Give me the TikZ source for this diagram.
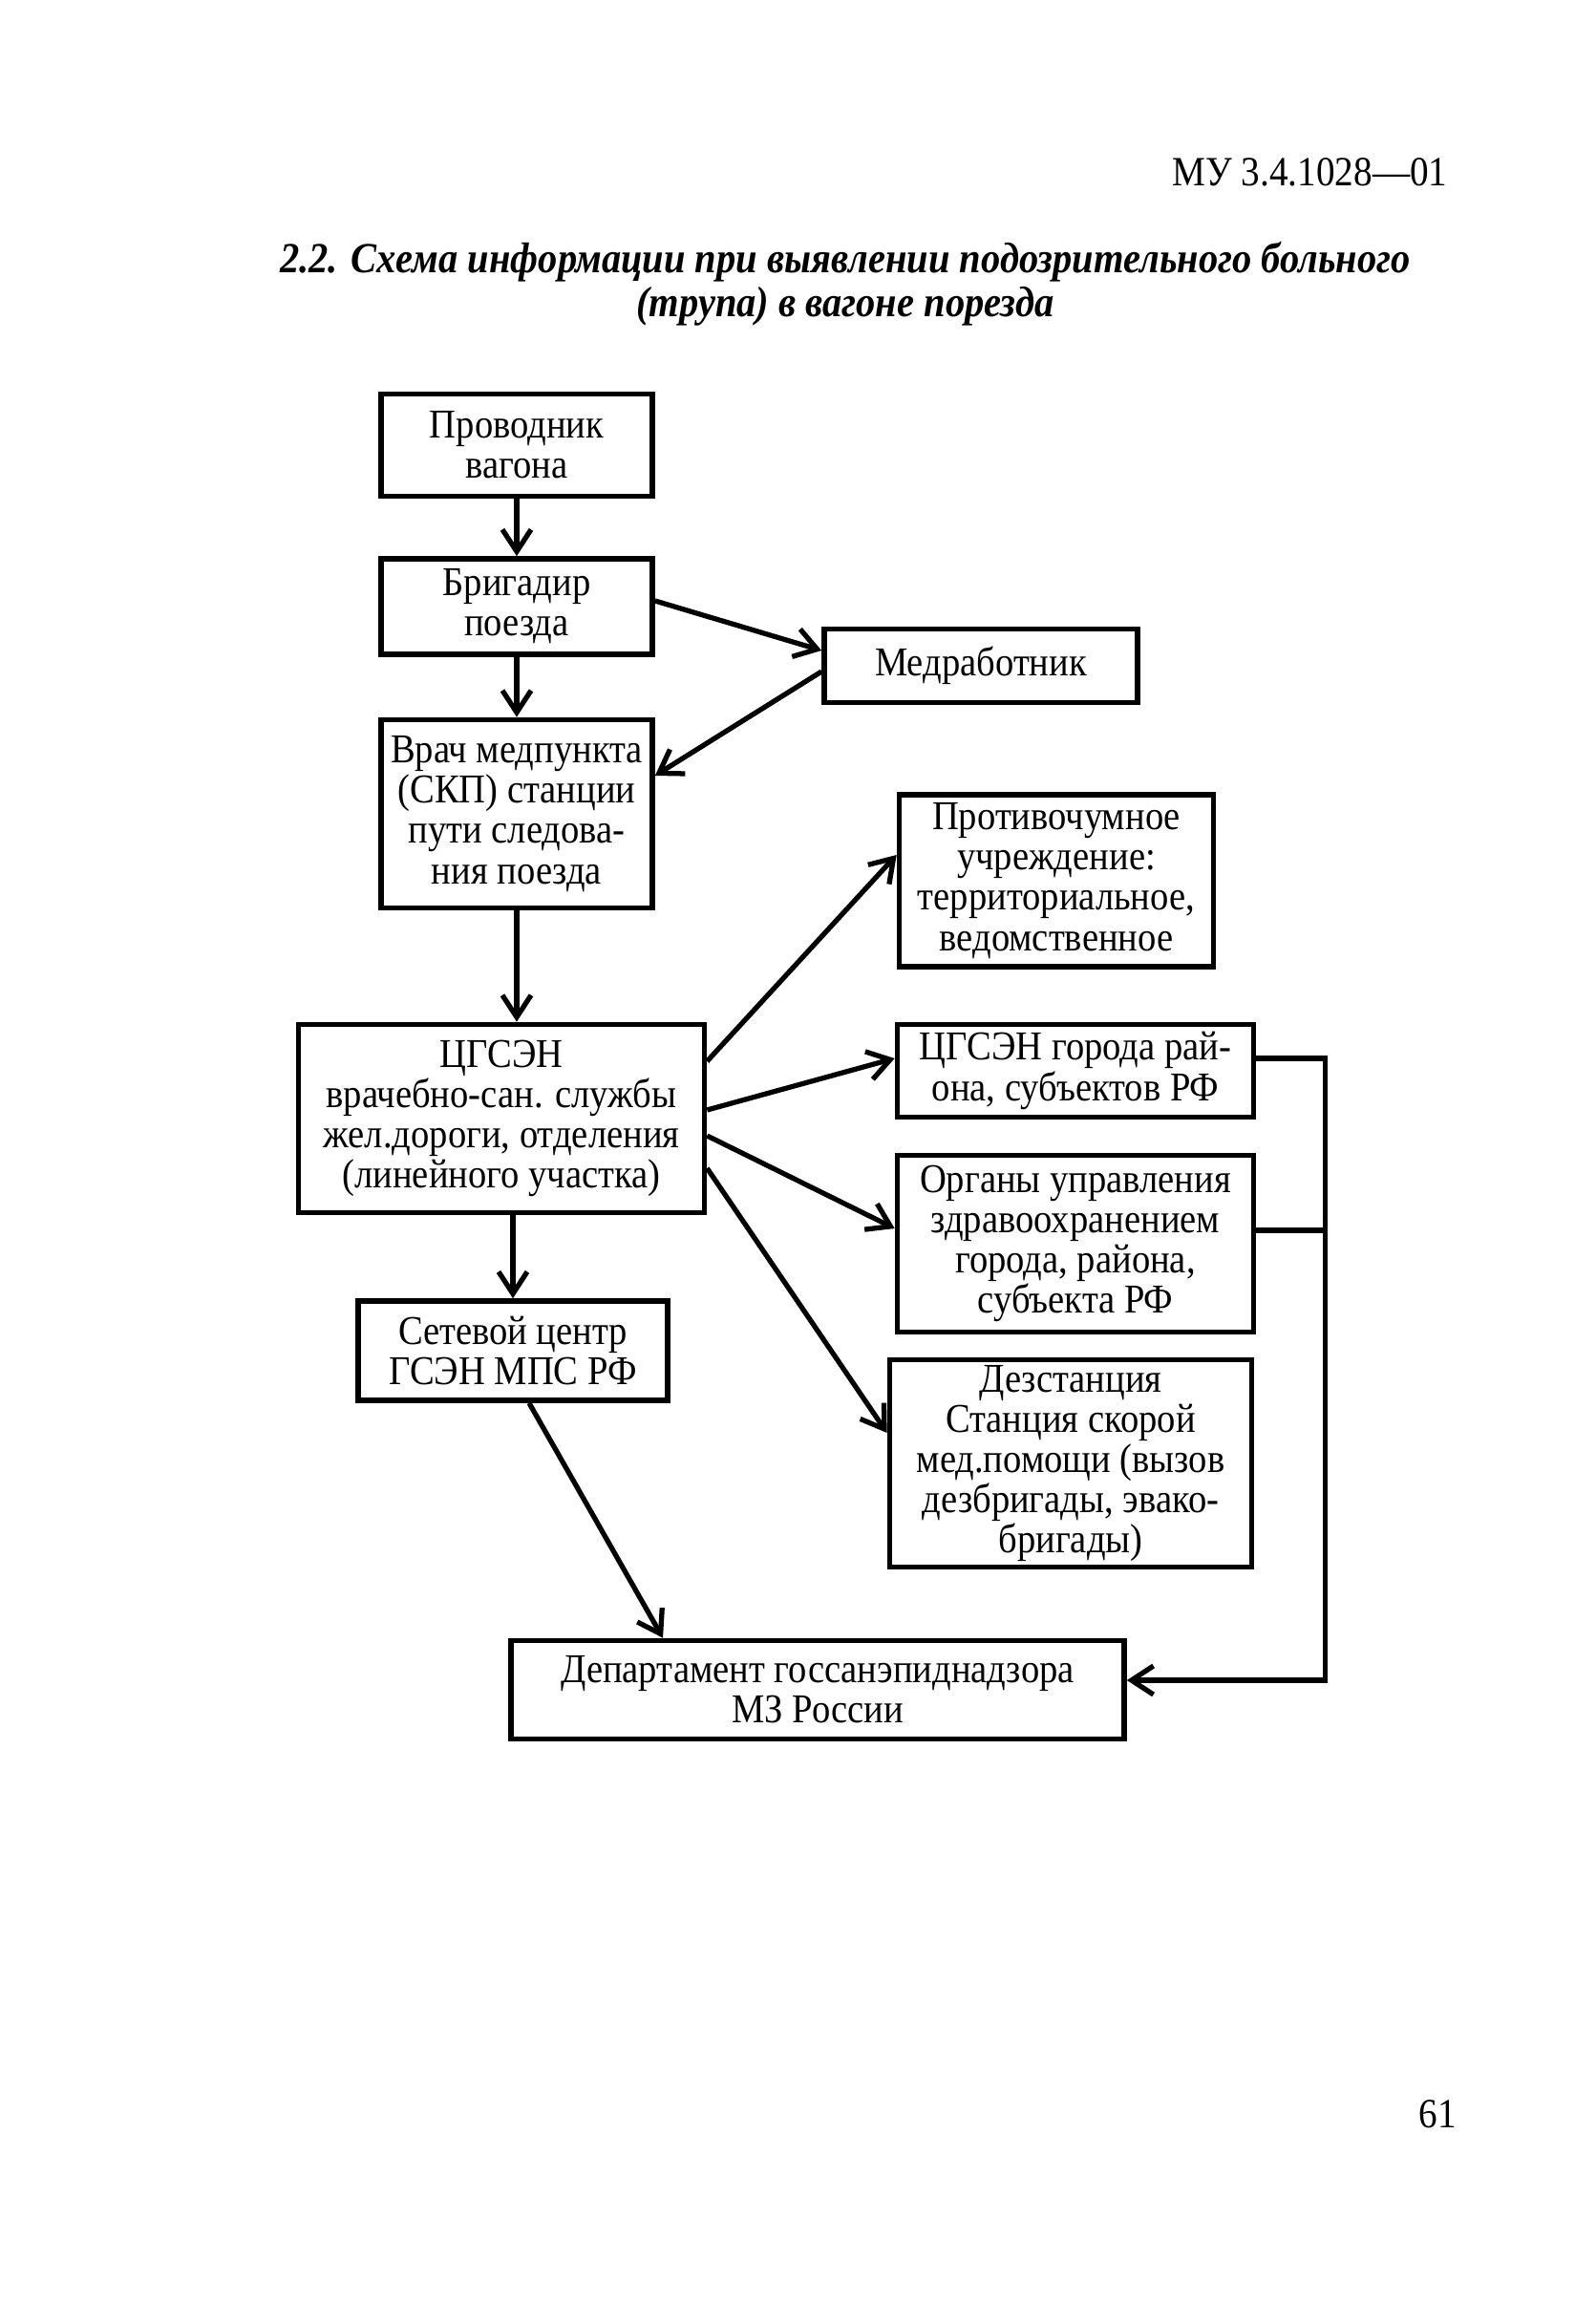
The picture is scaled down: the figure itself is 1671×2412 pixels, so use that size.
\documentclass[tikz,border=0pt]{standalone}
\usepackage{fontspec}
\setmainfont{Liberation Serif}[FakeStretch=0.9]
\usetikzlibrary{arrows.meta}
\begin{document}
\begin{tikzpicture}[x=0.1mm, y=-0.1mm,
  box/.style={draw, line width=1.6pt, align=center, inner sep=0pt, font=\fontsize{12.2}{12}\selectfont},
  line/.style={line width=1.5pt},
  arr/.style={line, -{Straight Barb[length=2.3mm,width=3mm]}}]
\useasboundingbox (0,0) rectangle (1671,2412);
\node[anchor=east, font=\fontsize{12.4}{13}\selectfont] (code) at (1528,180) {МУ 3.4.1028—01};
\node[align=center, font=\fontsize{12.8}{13.2}\selectfont\bfseries\itshape] (title) at (885,297)
  {2.2. Схема информации при выявлении подозрительного больного\\(трупа) в вагоне порезда};

\node[box, minimum width=28.4mm, minimum height=10.7mm] (prov) at (541,466) {Проводник\\вагона};
\node[box, minimum width=28.4mm, minimum height=10mm] (brig) at (541,635) {Бригадир\\поезда};
\node[box, minimum width=32.8mm, minimum height=7.7mm] (medr) at (1027,697) {Медработник};
\node[box, minimum width=28.4mm, minimum height=19.7mm] (vrach) at (541,852) {Врач медпункта\\(СКП) станции\\пути следова-\\ния поезда};
\node[box, minimum width=32.9mm, minimum height=18mm] (chuma) at (1106,922) {Противочумное\\учреждение:\\территориальное,\\ведомственное};
\node[box, minimum width=42.5mm, minimum height=19.7mm] (cgsen) at (525,1171) {ЦГСЭН\\врачебно-сан. службы\\жел.дороги, отделения\\(линейного участка)};
\node[box, minimum width=37.3mm, minimum height=9.7mm] (gorod) at (1126,1121) {ЦГСЭН города рай-\\она, субъектов РФ};
\node[box, minimum width=37.3mm, minimum height=18.5mm] (organy) at (1126,1302) {Органы управления\\здравоохранением\\города, района,\\субъекта РФ};
\node[box, minimum width=32.4mm, minimum height=10.4mm] (set) at (537,1414) {Сетевой центр\\ГСЭН МПС РФ};
\node[box, minimum width=37.9mm, minimum height=21.7mm] (dez) at (1121,1532) {Дезстанция\\Станция скорой\\мед.помощи (вызов\\дезбригады, эвако-\\бригады)};
\node[box, minimum width=64.2mm, minimum height=10.3mm] (dep) at (856,1769) {Департамент госсанэпиднадзора\\МЗ России};
\node[font=\fontsize{12.4}{13}\selectfont] (page) at (1505,2213) {61};

\draw[arr] (prov) -- (brig);
\draw[arr] (brig) -- (vrach);
\draw[arr] ([yshift=0.6mm]brig.east) -- ([yshift=1.6mm]medr.west);
\draw[arr] ([yshift=-0.6mm]medr.west) -- ([yshift=4mm]vrach.east);
\draw[arr] (vrach) -- (vrach |- cgsen.north);
\foreach \t/\a/\b in {chuma/6/2.7, gorod/0.9/1.3, organy/-1.8/1.6, dez/-5.2/3.2}
  \draw[arr] ([yshift=\a mm]cgsen.east) -- ([yshift=\b mm]\t.west);
\draw[arr] (cgsen.south -| set) -- (set);
\draw[arr] ([xshift=1.7mm]set.south) -- ([xshift=-16.2mm]dep.north);
\draw[arr] ([yshift=1.3mm]gorod.east) -- ++(7.2mm,0) |- ([yshift=1mm]dep.east);
\draw[line] ([yshift=1.4mm]organy.east) -- ++(7.2mm,0);
\end{tikzpicture}
\end{document}
